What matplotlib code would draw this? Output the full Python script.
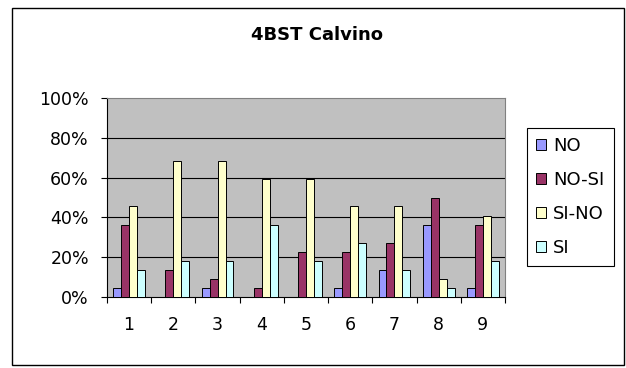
import numpy as np
import matplotlib
matplotlib.use("Agg")
import matplotlib.pyplot as plt
from matplotlib.patches import Rectangle

categories = ["1", "2", "3", "4", "5", "6", "7", "8", "9"]
series_names = ["NO", "NO-SI", "SI-NO", "SI"]
no_vals = [4.5, 0, 4.5, 0, 0, 4.5, 13.6, 36.4, 4.5]
nosi_vals = [36.4, 13.6, 9.1, 4.5, 22.7, 22.7, 27.3, 50.0, 36.4]
sino_vals = [45.5, 68.2, 68.2, 59.1, 59.1, 45.5, 45.5, 9.1, 40.9]
si_vals = [13.6, 18.2, 18.2, 36.4, 18.2, 27.3, 13.6, 4.5, 18.2]
colors = ["#9999FF", "#993366", "#FFFFCC", "#CCFFFF"]

fig = plt.figure(figsize=(6.26, 3.68), dpi=100)
ax = fig.add_axes([0.1709, 0.1929, 0.6358, 0.5408])
ax.set_facecolor("#C0C0C0")

x = np.arange(1, len(categories) + 1)
w = 0.18
all_vals = [no_vals, nosi_vals, sino_vals, si_vals]
for i, (vals, name, col) in enumerate(zip(all_vals, series_names, colors)):
    ax.bar(x + (i - 1.5) * w, vals, w, color=col, edgecolor="black",
           linewidth=0.7, label=name, zorder=3)

ax.set_xlim(0.5, 9.5)
ax.set_ylim(0, 100)
ax.set_yticks(np.arange(0, 101, 20))
ax.set_yticklabels([f"{v}%" for v in range(0, 101, 20)], fontsize=12.5)
for v in range(20, 100, 20):
    ax.axhline(v, color="black", lw=0.8, zorder=1)
ax.set_xticks(x)
ax.set_xticklabels(categories, fontsize=12.5)
ax.set_xticks(np.arange(0.5, 9.6, 1), minor=True)
ax.tick_params(axis="x", which="major", length=0, pad=14)
ax.tick_params(axis="x", which="minor", length=4, direction="out", width=0.8)
ax.tick_params(axis="y", length=4, direction="out", width=0.8, pad=9)
ax.spines["left"].set_color("black")
ax.spines["bottom"].set_color("black")
ax.spines["top"].set_color("#808080")
ax.spines["right"].set_color("#808080")

fig.text(0.507, 0.906, "4BST Calvino", ha="center", va="center",
         fontsize=13, fontweight="bold")

leg = fig.legend(loc="upper left", bbox_to_anchor=(0.842, 0.652),
                 fontsize=13, frameon=True, fancybox=False, framealpha=1,
                 edgecolor="black", labelspacing=0.88, handlelength=0.55,
                 handleheight=0.55, handletextpad=0.4, borderpad=0.5,
                 borderaxespad=0)
leg.get_frame().set_linewidth(0.8)

fig.patches.append(Rectangle((0.019, 0.008), 0.978, 0.970, transform=fig.transFigure,
                             fill=False, edgecolor="black", linewidth=1))

fig.savefig("out.png", dpi=100)
